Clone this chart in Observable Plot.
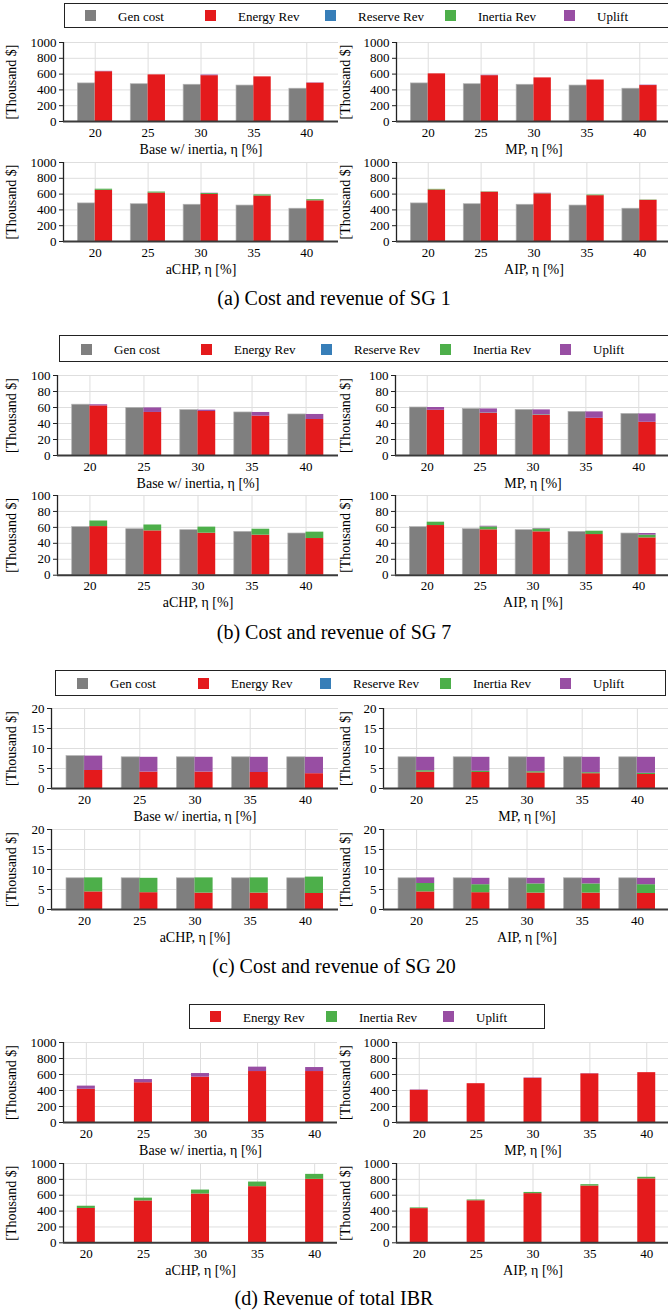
<!DOCTYPE html>
<html><head><meta charset="utf-8">
<script src="https://cdn.jsdelivr.net/npm/d3@7"></script>
<script src="https://cdn.jsdelivr.net/npm/@observablehq/plot@0.6"></script>
<style>
html,body{margin:0;padding:0;background:#fff;}
#root{position:relative;width:668px;height:1315px;overflow:hidden;font-family:"Liberation Serif",serif;color:#000;}
.legend{position:absolute;border:1.3px solid #222;box-sizing:border-box;}
.sw{position:absolute;width:11px;height:11px;}
.lt{position:absolute;font-size:13px;line-height:13px;white-space:nowrap;transform:translateY(-50%);}
.cap{position:absolute;left:0;width:668px;text-align:center;font-size:20px;line-height:20px;transform:translateY(-50%);white-space:nowrap;}
</style></head><body><div id="root"></div>
<script>
// ---------- categories / labels ----------
const etas = [20, 25, 30, 35, 40];
const seriesNames = ["Gen cost", "Energy Rev", "Reserve Rev", "Inertia Rev", "Uplift"];
const seriesColors = ["#7f7f7f", "#e41a1c", "#377eb8", "#4daf4a", "#984ea3"];
const ibrLegendNames = ["Energy Rev", "Inertia Rev", "Uplift"];
const methodLabels = ["Base w/ inertia, η [%]", "MP, η [%]", "aCHP, η [%]", "AIP, η [%]"];
const yAxisLabel = "[Thousand $]";
const captions = ["(a) Cost and revenue of SG 1", "(b) Cost and revenue of SG 7", "(c) Cost and revenue of SG 20", "(d) Revenue of total IBR"];
const yTicks1000 = [0, 200, 400, 600, 800, 1000];
const yTicks100 = [0, 20, 40, 60, 80, 100];
const yTicks20 = [0, 5, 10, 15, 20];

// ---------- SG 1 (thousand $) ----------
const sg1BaseGen = [482, 472, 465, 455, 415];
const sg1BaseEnergy = [630, 590, 580, 565, 485];
const sg1BaseInertia = [0, 0, 0, 0, 0];
const sg1BaseUplift = [5, 0, 8, 0, 4];
const sg1MpGen = [482, 472, 465, 455, 415];
const sg1MpEnergy = [603, 580, 552, 525, 455];
const sg1MpInertia = [0, 0, 0, 0, 0];
const sg1MpUplift = [0, 5, 0, 0, 5];
const sg1AchpGen = [482, 472, 465, 455, 415];
const sg1AchpEnergy = [648, 613, 595, 575, 515];
const sg1AchpInertia = [14, 13, 12, 15, 14];
const sg1AchpUplift = [0, 0, 4, 0, 0];
const sg1AipGen = [482, 472, 465, 455, 415];
const sg1AipEnergy = [652, 624, 603, 580, 521];
const sg1AipInertia = [8, 4, 3, 8, 4];
const sg1AipUplift = [0, 0, 5, 0, 0];

// ---------- SG 7 ----------
const sg7BaseGen = [63.5, 59.5, 56.7, 53.8, 51.3];
const sg7BaseEnergy = [62, 53.8, 55, 49.2, 45];
const sg7BaseInertia = [0, 0, 0, 0, 0];
const sg7BaseUplift = [1.4, 5.7, 1.7, 4.6, 6.3];
const sg7MpGen = [60, 58.2, 57, 54.5, 52];
const sg7MpEnergy = [56.5, 52.5, 50, 46.5, 41.5];
const sg7MpInertia = [0, 0.5, 0.7, 0, 0];
const sg7MpUplift = [3.5, 5.2, 6.3, 8, 10.5];
const sg7AchpGen = [60.3, 57.7, 56.5, 54.4, 52.3];
const sg7AchpEnergy = [61, 55.6, 52.7, 50.2, 46];
const sg7AchpInertia = [7, 7.4, 7.6, 7.5, 8];
const sg7AchpUplift = [0, 0, 0, 0, 0];
const sg7AipGen = [60.3, 57.7, 56.5, 54.4, 52.3];
const sg7AipEnergy = [62.3, 56.9, 54.4, 51, 46.8];
const sg7AipInertia = [4.2, 3.7, 3.6, 4.2, 3.4];
const sg7AipUplift = [0, 0.8, 0.5, 0, 2.1];

// ---------- SG 20 ----------
const sg20BaseGen = [8.1, 7.8, 7.8, 7.8, 7.8];
const sg20BaseEnergy = [4.5, 4.1, 4.1, 4.0, 3.7];
const sg20BaseInertia = [0, 0, 0, 0, 0];
const sg20BaseUplift = [3.6, 3.7, 3.7, 3.8, 4.1];
const sg20MpGen = [7.8, 7.8, 7.8, 7.8, 7.8];
const sg20MpEnergy = [4.1, 4.0, 3.9, 3.7, 3.5];
const sg20MpInertia = [0.35, 0.3, 0.3, 0.25, 0.3];
const sg20MpUplift = [3.35, 3.5, 3.6, 3.85, 4.0];
const sg20AchpGen = [7.8, 7.8, 7.8, 7.8, 7.8];
const sg20AchpEnergy = [4.4, 4.2, 4.1, 4.1, 4.0];
const sg20AchpInertia = [3.5, 3.6, 3.8, 3.8, 4.1];
const sg20AchpUplift = [0, 0, 0, 0, 0];
const sg20AipGen = [7.8, 7.8, 7.8, 7.8, 7.8];
const sg20AipEnergy = [4.4, 4.2, 4.1, 4.1, 4.0];
const sg20AipInertia = [2.1, 2.0, 2.3, 2.3, 2.2];
const sg20AipUplift = [1.4, 1.6, 1.4, 1.4, 1.6];

// ---------- total IBR ----------
const ibrBaseEnergy = [415, 497, 567, 637, 637];
const ibrBaseInertia = [0, 0, 0, 0, 0];
const ibrBaseUplift = [40, 40, 45, 55, 50];
const ibrMpEnergy = [402, 485, 552, 608, 623];
const ibrMpInertia = [0, 0, 0, 0, 0];
const ibrMpUplift = [5, 0, 5, 3, 0];
const ibrAchpEnergy = [433, 528, 615, 708, 800];
const ibrAchpInertia = [28, 35, 50, 58, 63];
const ibrAchpUplift = [0, 0, 0, 0, 0];
const ibrAipEnergy = [431, 530, 620, 716, 806];
const ibrAipInertia = [9, 10, 15, 17, 20];
const ibrAipUplift = [0, 0, 0, 0, 0];

// ---------- assembly ----------
const groups = [
  {ticks: yTicks1000, single: false, panels: [
    {gen: sg1BaseGen, energy: sg1BaseEnergy, inertia: sg1BaseInertia, uplift: sg1BaseUplift},
    {gen: sg1MpGen, energy: sg1MpEnergy, inertia: sg1MpInertia, uplift: sg1MpUplift},
    {gen: sg1AchpGen, energy: sg1AchpEnergy, inertia: sg1AchpInertia, uplift: sg1AchpUplift},
    {gen: sg1AipGen, energy: sg1AipEnergy, inertia: sg1AipInertia, uplift: sg1AipUplift}]},
  {ticks: yTicks100, single: false, panels: [
    {gen: sg7BaseGen, energy: sg7BaseEnergy, inertia: sg7BaseInertia, uplift: sg7BaseUplift},
    {gen: sg7MpGen, energy: sg7MpEnergy, inertia: sg7MpInertia, uplift: sg7MpUplift},
    {gen: sg7AchpGen, energy: sg7AchpEnergy, inertia: sg7AchpInertia, uplift: sg7AchpUplift},
    {gen: sg7AipGen, energy: sg7AipEnergy, inertia: sg7AipInertia, uplift: sg7AipUplift}]},
  {ticks: yTicks20, single: false, panels: [
    {gen: sg20BaseGen, energy: sg20BaseEnergy, inertia: sg20BaseInertia, uplift: sg20BaseUplift},
    {gen: sg20MpGen, energy: sg20MpEnergy, inertia: sg20MpInertia, uplift: sg20MpUplift},
    {gen: sg20AchpGen, energy: sg20AchpEnergy, inertia: sg20AchpInertia, uplift: sg20AchpUplift},
    {gen: sg20AipGen, energy: sg20AipEnergy, inertia: sg20AipInertia, uplift: sg20AipUplift}]},
  {ticks: yTicks1000, single: true, panels: [
    {gen: null, energy: ibrBaseEnergy, inertia: ibrBaseInertia, uplift: ibrBaseUplift},
    {gen: null, energy: ibrMpEnergy, inertia: ibrMpInertia, uplift: ibrMpUplift},
    {gen: null, energy: ibrAchpEnergy, inertia: ibrAchpInertia, uplift: ibrAchpUplift},
    {gen: null, energy: ibrAipEnergy, inertia: ibrAipInertia, uplift: ibrAipUplift}]}
];

// ---------- layout (page pixels) ----------
const frames = [
  [[63,338,41.7,120.7],[396,671,41.7,120.7],[63,338,162,241],[396,671,162,241]],
  [[57,338,374.7,454.7],[395,670,374.7,454.7],[57,338,495.3,575],[395,670,495.3,575]],
  [[51,338,708.3,788.3],[383,670,708.3,788.3],[51,338,829,909],[383,670,829,909]],
  [[63,337,1042,1122],[396,669,1042,1122],[63,337,1162.7,1242],[396,669,1162.7,1242]]
];
const yLabelCenters = [12.5, 346.5, 12.5, 346.5];
const legendLayouts = [
  {box: [64, 3, 669, 27.5], centers: [90, 210, 330, 450, 569], yc: 15.5},
  {box: [59, 335.3, 669, 362], centers: [86, 206, 326, 445, 565], yc: 349},
  {box: [54.5, 670, 666, 695.7], centers: [82, 203, 325, 445, 565], yc: 683},
  {box: [188.5, 1003.7, 545, 1029], centers: [215, 331, 448], yc: 1016.5}
];
const captionY = [298, 632, 966, 1298];

const root = document.getElementById("root");
const colorOf = n => seriesColors[seriesNames.indexOf(n)];

function makeBars(p, single, bw) {
  const rows = [];
  etas.forEach((eta, i) => {
    if (!single && p.gen) rows.push({x1: eta - bw, x2: eta, y1: 0, y2: p.gen[i], s: "Gen cost"});
    const x1 = single ? eta - bw / 2 : eta, x2 = single ? eta + bw / 2 : eta + bw;
    let base = 0;
    [["Energy Rev", p.energy], ["Inertia Rev", p.inertia], ["Uplift", p.uplift]].forEach(([s, arr]) => {
      const v = arr[i];
      if (v > 0) { rows.push({x1, x2, y1: base, y2: base + v, s}); base += v; }
    });
  });
  return rows;
}

function drawPanel(p, frame, yTicks, single, xLabel, labelCenterX) {
  const [left, right, top, bottom] = frame;
  const ML = 64, MR = 4, MT = 6, MB = 40;
  const domainX = single ? [18, 42] : [17, 43];
  const bars = makeBars(p, single, single ? 1.58 : 1.64);
  const svg = Plot.plot({
    width: right - left + ML + MR, height: bottom - top + MT + MB,
    marginLeft: ML, marginRight: MR, marginTop: MT, marginBottom: MB,
    style: {fontFamily: '"Liberation Serif", serif', background: "transparent", color: "#000", overflow: "visible"},
    x: {domain: domainX},
    y: {domain: [0, yTicks[yTicks.length - 1]]},
    color: {domain: seriesNames, range: seriesColors},
    marks: [
      Plot.gridY({ticks: yTicks, stroke: "#dedede", strokeOpacity: 1, strokeWidth: 1}),
      Plot.gridX({ticks: etas, stroke: "#dedede", strokeOpacity: 1, strokeWidth: 1}),
      Plot.rect(bars.filter(d => d.s === "Gen cost"), {x1: "x1", x2: "x2", y1: "y1", y2: "y2", fill: "s", stroke: "#b3b3b3", strokeWidth: 0.7}),
      Plot.rect(bars.filter(d => d.s !== "Gen cost"), {x1: "x1", x2: "x2", y1: "y1", y2: "y2", fill: "s"}),
      Plot.ruleX([domainX[0]], {stroke: "#222", strokeWidth: 1.3}),
      Plot.ruleY([0], {stroke: "#3a3a3a", strokeWidth: 2}),
      Plot.axisY({ticks: yTicks, tickFormat: d => String(d), tickSize: 4, tickPadding: 3, fontSize: 13, label: null, stroke: "#222"}),
      Plot.axisY({ticks: [], label: yAxisLabel, labelAnchor: "center", labelArrow: "none", labelOffset: left - labelCenterX + 7, fontSize: 14}),
      Plot.axisX({ticks: etas, tickFormat: d => String(d), tickSize: 0, tickPadding: 6, fontSize: 13, label: null}),
      Plot.axisX({ticks: [], label: xLabel, labelAnchor: "center", labelArrow: "none", labelOffset: 32, fontSize: 14})
    ]
  });
  svg.style.position = "absolute";
  svg.style.left = (left - ML) + "px";
  svg.style.top = (top - MT) + "px";
  root.appendChild(svg);
}

function drawLegend(names, lay) {
  const [x1, y1, x2, y2] = lay.box;
  const box = document.createElement("div");
  box.className = "legend";
  Object.assign(box.style, {left: x1 + "px", top: y1 + "px", width: (x2 - x1) + "px", height: (y2 - y1) + "px"});
  root.appendChild(box);
  names.forEach((n, i) => {
    const sw = document.createElement("div");
    sw.className = "sw";
    Object.assign(sw.style, {left: (lay.centers[i] - 5.5) + "px", top: (lay.yc - 5.5) + "px", background: colorOf(n)});
    root.appendChild(sw);
    const t = document.createElement("div");
    t.className = "lt";
    t.textContent = n;
    Object.assign(t.style, {left: (lay.centers[i] + 28) + "px", top: lay.yc + "px"});
    root.appendChild(t);
  });
}

groups.forEach((g, gi) => {
  drawLegend(g.single ? ibrLegendNames : seriesNames, legendLayouts[gi]);
  g.panels.forEach((p, pi) => drawPanel(p, frames[gi][pi], g.ticks, g.single, methodLabels[pi], yLabelCenters[pi]));
  const c = document.createElement("div");
  c.className = "cap";
  c.textContent = captions[gi];
  c.style.top = captionY[gi] + "px";
  root.appendChild(c);
});
</script></body></html>
